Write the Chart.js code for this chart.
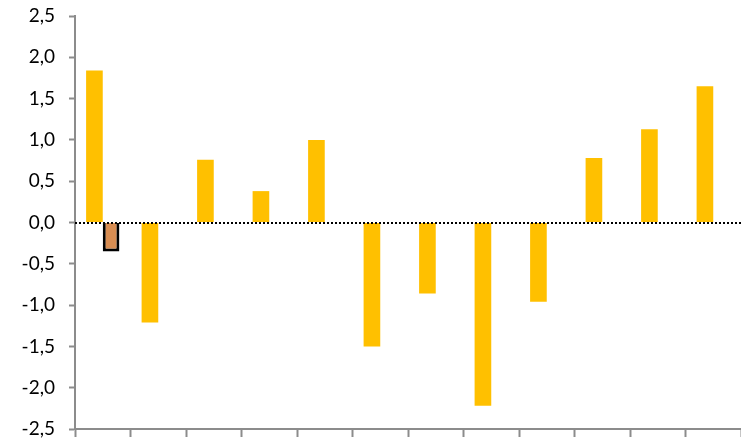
<!DOCTYPE html>
<html><head><meta charset="utf-8">
<script src="https://cdn.jsdelivr.net/npm/chart.js@4"></script>
<style>html,body{margin:0;padding:0;background:#fff}#w{width:741px;height:441px}</style>
</head><body><div id="w"><canvas id="c"></canvas></div>
<script>
const categories = ["1","2","3","4","5","6","7","8","9","10","11","12"];
const seriesMain = [1.84,-1.21,0.76,0.38,1.0,-1.5,-0.86,-2.22,-0.96,0.78,1.13,1.65];
const seriesSecond = [-0.35,null,null,null,null,null,null,null,null,null,null,null];
const yTicks = [-2.5,-2,-1.5,-1,-0.5,0,0.5,1,1.5,2,2.5];

const zeroLine = {
  id: 'zeroLine',
  afterDatasetsDraw(chart) {
    const {ctx, chartArea, scales} = chart;
    const y = Math.round(scales.y.getPixelForValue(0));
    ctx.save();
    ctx.strokeStyle = '#000';
    ctx.lineWidth = 2;
    ctx.setLineDash([2, 2]);
    ctx.beginPath();
    ctx.moveTo(chartArea.left, y);
    ctx.lineTo(chartArea.right, y);
    ctx.stroke();
    ctx.restore();
  }
};

new Chart(document.getElementById('c'), {
  type: 'bar',
  data: {
    labels: categories,
    datasets: [
      {data: seriesMain, backgroundColor: '#FFC000', borderWidth: 0},
      {data: seriesSecond, backgroundColor: '#D88D52', borderColor: '#000', borderWidth: 3}
    ]
  },
  plugins: [zeroLine],
  options: {
    responsive: true, maintainAspectRatio: false, animation: false,
    layout: {padding: {top: 16, right: 0, left: 0, bottom: 0}},
    plugins: {legend: {display: false}, tooltip: {enabled: false}},
    datasets: {bar: {categoryPercentage: 0.6, barPercentage: 1}},
    scales: {
      x: {
        grid: {drawOnChartArea: false, tickLength: 8, tickColor: '#8c8c8c', tickWidth: 2},
        border: {color: '#8c8c8c', width: 2},
        ticks: {display: false},
        afterFit: s => { s.height = 12; s.paddingLeft = 0; s.paddingRight = 0; }
      },
      y: {
        min: -2.5, max: 2.5,
        afterBuildTicks: s => { s.ticks = yTicks.map(v => ({value: v})); },
        grid: {drawOnChartArea: false, tickLength: 6, tickColor: '#8c8c8c', tickWidth: 2},
        border: {color: '#8c8c8c', width: 2},
        ticks: {
          color: '#000', padding: 14,
          font: {family: 'Lato', size: 19},
          callback: v => v.toFixed(1).replace('.', ',')
        },
        afterFit: s => { s.width = 75; s.paddingTop = 0; s.paddingBottom = 0; }
      }
    }
  }
});
</script>
</body></html>
